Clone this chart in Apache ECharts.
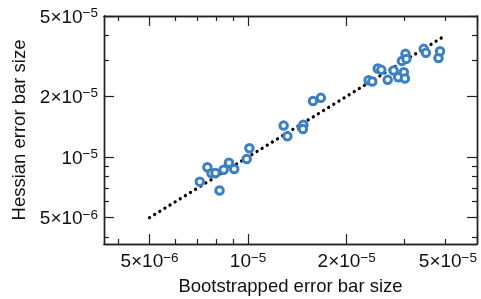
<!DOCTYPE html>
<html>
<head>
<meta charset="utf-8">
<script src="https://cdn.jsdelivr.net/npm/echarts@6/dist/echarts.min.js"></script>
<style>
  html, body { margin: 0; padding: 0; background: #fff; }
  #chart { width: 481px; height: 299px; }
</style>
</head>
<body>
<div id="chart"></div>
<script>
// bootstrapped (x) vs hessian (y) error bar sizes
var bootX = [7.12e-6, 7.51e-6, 7.73e-6, 7.95e-6, 8.18e-6, 8.42e-6, 8.74e-6, 9.07e-6, 9.90e-6, 1.009e-5,
             1.284e-5, 1.318e-5, 1.46e-5, 1.475e-5, 1.47e-5, 1.578e-5, 1.668e-5,
             2.333e-5, 2.394e-5, 2.488e-5, 2.551e-5, 2.668e-5, 2.782e-5, 2.874e-5, 2.949e-5,
             2.990e-5, 3.011e-5, 3.024e-5, 3.043e-5, 3.439e-5, 3.491e-5, 3.814e-5, 3.856e-5];
var hessY = [7.54e-6, 8.89e-6, 8.30e-6, 8.33e-6, 6.81e-6, 8.64e-6, 9.36e-6, 8.72e-6, 9.77e-6, 1.105e-5,
             1.43e-5, 1.267e-5, 1.401e-5, 1.446e-5, 1.377e-5, 1.896e-5, 1.963e-5,
             2.40e-5, 2.364e-5, 2.744e-5, 2.703e-5, 2.411e-5, 2.681e-5, 2.481e-5, 2.995e-5,
             2.632e-5, 2.447e-5, 3.245e-5, 3.064e-5, 3.436e-5, 3.282e-5, 3.093e-5, 3.346e-5];

// y = x reference line
var diagX = [5e-6, 4e-5];
var diagY = [5e-6, 4e-5];

var majorTicks = [5e-6, 1e-5, 2e-5, 5e-5];
var minorTicks = [4e-6, 6e-6, 7e-6, 8e-6, 9e-6, 3e-5, 4e-5];

var xMin = 3.63e-6, xMax = 5e-5;
var yMin = 3.7e-6, yMax = 5e-5;

var frame = '#222';
var font = 'Liberation Sans';

function sciLabel(v) {
    var e = Math.floor(Math.log10(v) + 1e-9);
    var m = Math.round(v / Math.pow(10, e));
    var head = m === 1 ? '10' : m + '\u00d710';
    return '{m|' + head + '}{s|\u2212' + (-e) + '}';
}

var richStyle = {
    m: { fontSize: 19, lineHeight: 19, padding: [3, 0, 0, 0], color: '#111', fontFamily: font },
    s: { fontSize: 13.5, lineHeight: 13.5, verticalAlign: 'top', color: '#111', fontFamily: font }
};

function axisBase(gridIndex, position, isX, ticks, len, withLabels) {
    var ax = {
        type: 'log',
        gridIndex: gridIndex,
        position: position,
        min: isX ? xMin : yMin,
        max: isX ? xMax : yMax,
        axisLine: { show: true, onZero: false, lineStyle: { color: frame, width: 1.4 } },
        axisTick: { show: true, inside: true, length: len, customValues: ticks,
                    lineStyle: { color: frame, width: 1.2 } },
        axisLabel: { show: false },
        splitLine: { show: false },
        minorTick: { show: false }
    };
    if (withLabels) {
        ax.axisLabel = {
            show: true,
            customValues: ticks,
            margin: isX ? 7 : 6,
            fontSize: 19,
            fontFamily: font,
            color: '#111',
            formatter: sciLabel,
            rich: richStyle
        };
        if (isX) ax.axisLabel.alignMaxLabel = 'right';
    }
    return ax;
}

var chart = echarts.init(document.getElementById('chart'));

var xMainAxis = axisBase(0, 'bottom', true, majorTicks, 10, true);
xMainAxis.name = 'Bootstrapped error bar size';
xMainAxis.nameLocation = 'middle';
xMainAxis.nameGap = 33;
xMainAxis.nameTextStyle = { fontSize: 18.5, color: '#111', fontFamily: font };

var yMainAxis = axisBase(0, 'left', false, majorTicks, 10, true);
yMainAxis.name = 'Hessian error bar size';
yMainAxis.nameLocation = 'middle';
yMainAxis.nameGap = 71;
yMainAxis.nameTextStyle = { fontSize: 18.5, color: '#111', fontFamily: font };

var option = {
    animation: false,
    backgroundColor: '#fff',
    grid: [
        { left: 104, right: 4, top: 16, bottom: 55, containLabel: false, outerBoundsMode: 'none' },
        { left: 104, right: 4, top: 16, bottom: 55, containLabel: false, outerBoundsMode: 'none' }
    ],
    xAxis: [
        xMainAxis,
        axisBase(0, 'top', true, majorTicks, 10, false),
        axisBase(1, 'bottom', true, minorTicks, 5, false),
        axisBase(1, 'top', true, minorTicks, 5, false)
    ],
    yAxis: [
        yMainAxis,
        axisBase(0, 'right', false, majorTicks, 10, false),
        axisBase(1, 'left', false, minorTicks, 5, false),
        axisBase(1, 'right', false, minorTicks, 5, false)
    ],
    series: [
        {
            type: 'line',
            xAxisIndex: 0,
            yAxisIndex: 0,
            data: diagX.map(function (x, i) { return [x, diagY[i]]; }),
            showSymbol: false,
            symbol: 'none',
            lineStyle: { color: '#000', width: 3.3, type: [0.01, 6], cap: 'round' },
            z: 2
        },
        {
            type: 'scatter',
            xAxisIndex: 0,
            yAxisIndex: 0,
            data: bootX.map(function (x, i) { return [x, hessY[i]]; }),
            symbol: 'circle',
            symbolSize: 7.5,
            itemStyle: { color: '#fff', borderColor: '#3a80c2', borderWidth: 3, opacity: 1 },
            z: 3
        }
    ]
};

chart.setOption(option);
</script>
</body>
</html>
